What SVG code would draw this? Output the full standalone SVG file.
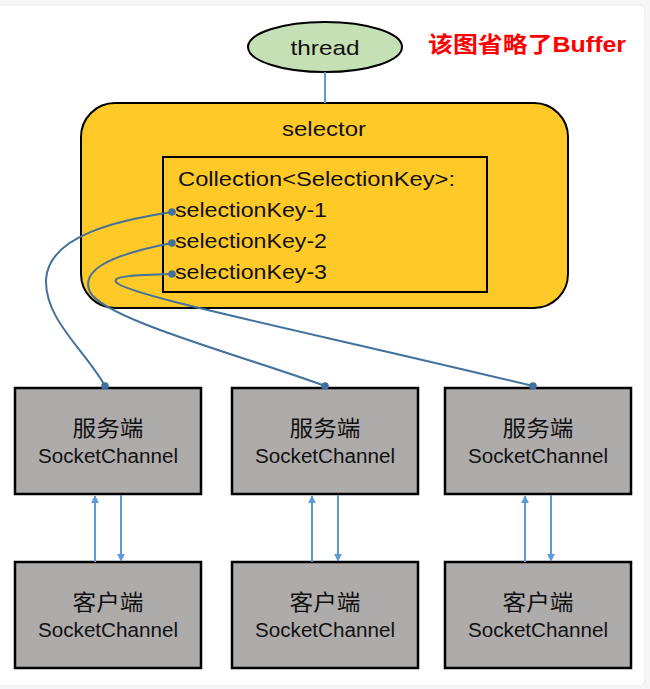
<svg xmlns="http://www.w3.org/2000/svg" width="650" height="689" viewBox="0 0 650 689">
<defs>
<style>
.t{font-family:"Liberation Sans",Arial,sans-serif;fill:#111;}
.c{font-family:"Noto Sans CJK SC","Noto Sans",sans-serif;fill:#111;}
.box{fill:#AEABAB;stroke:#000;stroke-width:2.5;}
.curve{fill:none;stroke:#41719C;stroke-width:2;}
.dot{fill:#41719C;}
.arr{stroke:#5B9BD5;stroke-width:2;fill:none;}
</style>
<marker id="ah" viewBox="0 0 10 10" refX="9" refY="5" markerWidth="8" markerHeight="9" markerUnits="userSpaceOnUse" orient="auto">
<path d="M0,0 L10,5 L0,10 z" fill="#5B9BD5"/>
</marker>
</defs>
<rect x="0" y="0" width="650" height="689" fill="#f6f6f8"/>
<rect x="-10" y="5" width="655" height="681" rx="6" fill="#fff" stroke="#ececf0" stroke-width="1"/>

<g id="note">
<text x="428" y="52" font-family="Liberation Sans,'Noto Sans CJK SC',sans-serif" font-weight="bold" font-size="22" fill="#FF0000" textLength="198" lengthAdjust="spacingAndGlyphs">该图省略了Buffer</text>
</g>

<g id="thread">
<ellipse cx="325" cy="47" rx="77" ry="25" fill="#C5E0B4" stroke="#000" stroke-width="2"/>
<text class="t" x="325" y="55" font-size="21" text-anchor="middle" textLength="69" lengthAdjust="spacingAndGlyphs">thread</text>
</g>

<g id="selector">
<rect x="81" y="103" width="487" height="205" rx="34" fill="#FFCA28" stroke="#000" stroke-width="2"/>
<text class="t" x="324" y="136" font-size="21" text-anchor="middle" textLength="84" lengthAdjust="spacingAndGlyphs">selector</text>
</g>

<g id="collection">
<rect x="163" y="157" width="324" height="135" fill="none" stroke="#000" stroke-width="2"/>
<text class="t" x="178" y="186" font-size="21" textLength="277" lengthAdjust="spacingAndGlyphs">Collection&lt;SelectionKey&gt;:</text>
<text class="t" x="175" y="217" font-size="21" textLength="152" lengthAdjust="spacingAndGlyphs">selectionKey-1</text>
<text class="t" x="175" y="248" font-size="21" textLength="152" lengthAdjust="spacingAndGlyphs">selectionKey-2</text>
<text class="t" x="175" y="279" font-size="21" textLength="152" lengthAdjust="spacingAndGlyphs">selectionKey-3</text>
</g>

<g id="server1">
<rect class="box" x="15" y="388" width="186" height="106"/>
<text class="c" x="108" y="436" font-size="22" text-anchor="middle" textLength="71" lengthAdjust="spacingAndGlyphs">服务端</text>
<text class="t" x="108" y="463" font-size="20" text-anchor="middle" textLength="140" lengthAdjust="spacingAndGlyphs">SocketChannel</text>
</g>
<g id="server2">
<rect class="box" x="232" y="388" width="186" height="106"/>
<text class="c" x="325" y="436" font-size="22" text-anchor="middle" textLength="71" lengthAdjust="spacingAndGlyphs">服务端</text>
<text class="t" x="325" y="463" font-size="20" text-anchor="middle" textLength="140" lengthAdjust="spacingAndGlyphs">SocketChannel</text>
</g>
<g id="server3">
<rect class="box" x="445" y="388" width="186" height="106"/>
<text class="c" x="538" y="436" font-size="22" text-anchor="middle" textLength="71" lengthAdjust="spacingAndGlyphs">服务端</text>
<text class="t" x="538" y="463" font-size="20" text-anchor="middle" textLength="140" lengthAdjust="spacingAndGlyphs">SocketChannel</text>
</g>

<g id="client1">
<rect class="box" x="15" y="562" width="186" height="106"/>
<text class="c" x="108" y="610" font-size="22" text-anchor="middle" textLength="71" lengthAdjust="spacingAndGlyphs">客户端</text>
<text class="t" x="108" y="637" font-size="20" text-anchor="middle" textLength="140" lengthAdjust="spacingAndGlyphs">SocketChannel</text>
</g>
<g id="client2">
<rect class="box" x="232" y="562" width="186" height="106"/>
<text class="c" x="325" y="610" font-size="22" text-anchor="middle" textLength="71" lengthAdjust="spacingAndGlyphs">客户端</text>
<text class="t" x="325" y="637" font-size="20" text-anchor="middle" textLength="140" lengthAdjust="spacingAndGlyphs">SocketChannel</text>
</g>
<g id="client3">
<rect class="box" x="445" y="562" width="186" height="106"/>
<text class="c" x="538" y="610" font-size="22" text-anchor="middle" textLength="71" lengthAdjust="spacingAndGlyphs">客户端</text>
<text class="t" x="538" y="637" font-size="20" text-anchor="middle" textLength="140" lengthAdjust="spacingAndGlyphs">SocketChannel</text>
</g>

<g id="connectors">
<line x1="325" y1="72" x2="325" y2="103" stroke="#5B9BD5" stroke-width="2"/>
<path class="curve" d="M172,212 C120,220 48,235 46,280 C45,320 85,350 105,386"/>
<path class="curve" d="M172,243 C110,255 80,270 90,292 C105,320 250,358 325,386"/>
<path class="curve" d="M172,274 C135,275 112,276 116,282 C125,295 300,330 533,386"/>
<circle class="dot" cx="172" cy="212" r="3.8"/>
<circle class="dot" cx="172" cy="243" r="3.8"/>
<circle class="dot" cx="172" cy="274" r="3.8"/>
<circle class="dot" cx="105" cy="386" r="3.8"/>
<circle class="dot" cx="325" cy="386" r="3.8"/>
<circle class="dot" cx="533" cy="386" r="3.8"/>
<line class="arr" x1="95" y1="562" x2="95" y2="496" marker-end="url(#ah)"/>
<line class="arr" x1="121" y1="495" x2="121" y2="561" marker-end="url(#ah)"/>
<line class="arr" x1="312" y1="562" x2="312" y2="496" marker-end="url(#ah)"/>
<line class="arr" x1="338" y1="495" x2="338" y2="561" marker-end="url(#ah)"/>
<line class="arr" x1="525" y1="562" x2="525" y2="496" marker-end="url(#ah)"/>
<line class="arr" x1="551" y1="495" x2="551" y2="561" marker-end="url(#ah)"/>
</g>
</svg>
